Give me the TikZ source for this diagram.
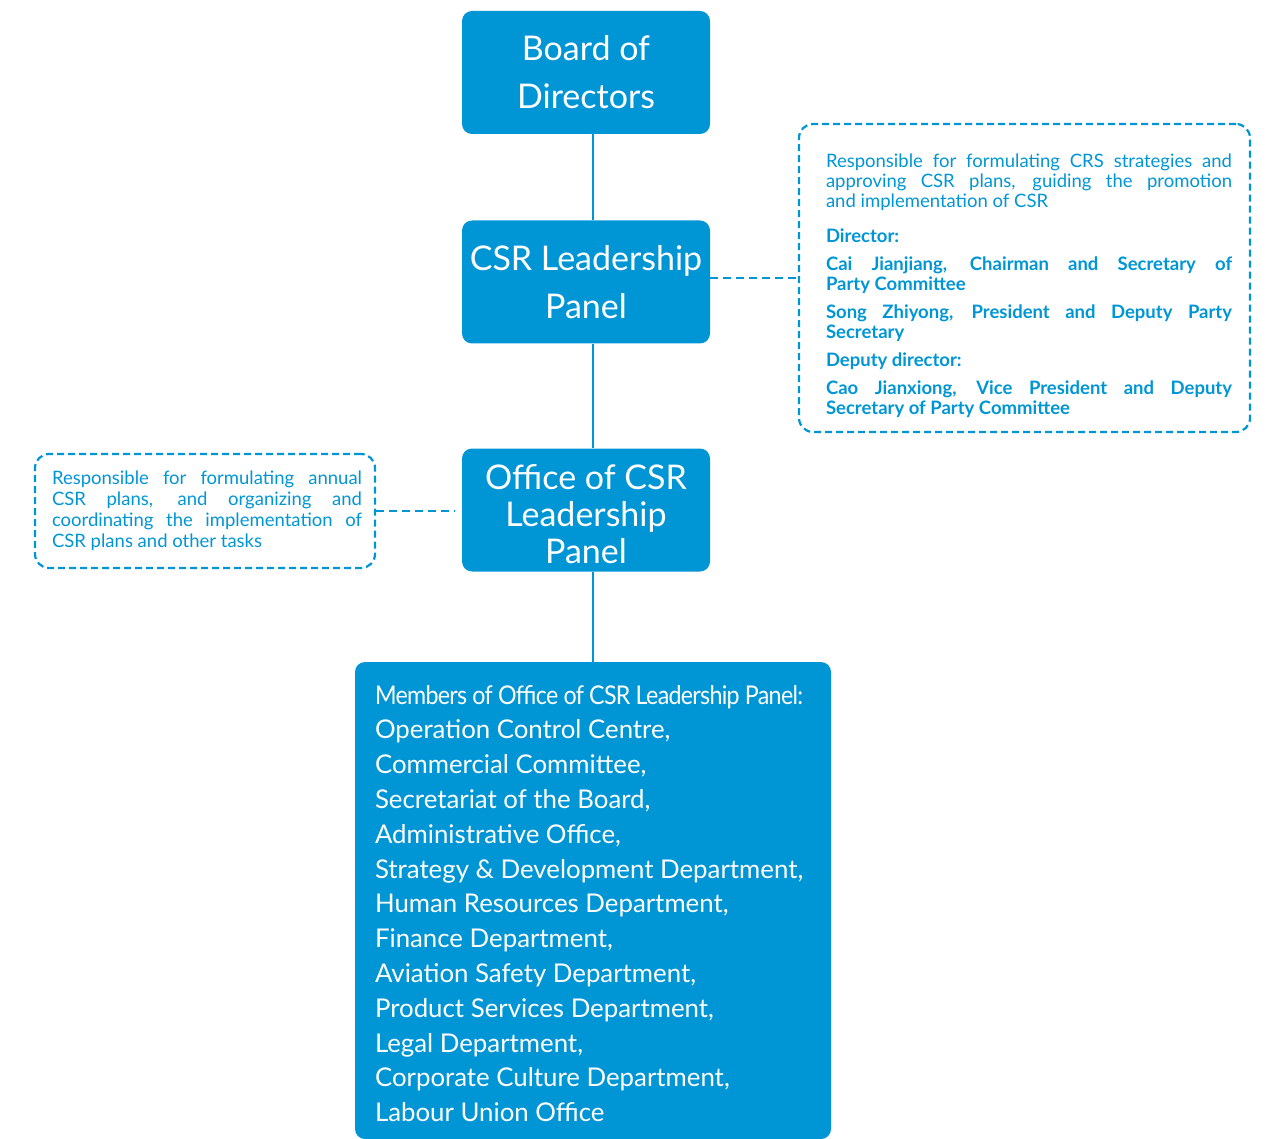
\documentclass[tikz,border=0pt]{standalone}
\usepackage{fontspec}
\usepackage{graphicx}
\setmainfont{Lato}
\usetikzlibrary{positioning}
\definecolor{csrblue}{RGB}{0,150,214}

\begin{document}
\begin{tikzpicture}[x=1pt,y=-1pt,
    mainbox/.style={fill=csrblue, text=white, rounded corners=10pt,
      minimum width=248pt, minimum height=123pt, inner sep=0pt,
      align=center, font=\fontsize{34}{48}\selectfont},
    notebox/.style={draw=csrblue, line width=2.2pt, dash pattern=on 7pt off 4pt,
      rounded corners=14pt, text=csrblue, inner sep=0pt},
    link/.style={draw=csrblue, line width=2pt},
    notelink/.style={draw=csrblue, line width=2.5pt, dash pattern=on 8pt off 5pt}]
  \useasboundingbox (0,0) rectangle (1271,1139);

  % main chain
  \node[mainbox] (board) at (586,72.5) {Board of\\Directors};
  \node[mainbox] (leader) at (586,282) {CSR Leadership\\Panel};
  \node[mainbox, font=\fontsize{34}{37}\selectfont] (office) at (586,510)
    {\parbox{248pt}{\vspace*{8pt}\centering Office of CSR\\Leadership\\Panel}};
  \node[fill=csrblue, text=white, rounded corners=10pt, inner sep=0pt,
    minimum width=476pt, minimum height=477pt] (members) at (593,900.5)
    {\parbox{436pt}{\vspace*{6pt}\fontsize{25.8}{34.8}\selectfont
      \resizebox{428pt}{\height}{\addfontfeature{LetterSpace=-3}Members of Office of CSR Leadership Panel:}\\
      Operation Control Centre,\\
      Commercial Committee,\\
      Secretariat of the Board,\\
      Administrative Office,\\
      Strategy \& Development Department,\\
      Human Resources Department,\\
      Finance Department,\\
      Aviation Safety Department,\\
      Product Services Department,\\
      Legal Department,\\
      Corporate Culture Department,\\
      Labour Union Office}};

  % notes
  \node[notebox, minimum width=451pt, minimum height=308pt] (duty) at (1024.5,278)
    {\hspace*{9pt}\parbox{406pt}{\fontsize{18.5}{20}\selectfont\vspace*{15pt}
      Responsible for formulating CRS strategies and\linebreak
      approving CSR plans, guiding the promotion\linebreak
      and implementation of CSR\par\vspace{15pt}
      \bfseries Director:\par\vspace{8pt}
      Cai Jianjiang, Chairman and Secretary of\linebreak
      Party Committee\par\vspace{8pt}
      Song Zhiyong, President and Deputy Party\linebreak
      Secretary\par\vspace{8pt}
      Deputy director:\par\vspace{8pt}
      Cao Jianxiong, Vice President and Deputy\linebreak
      Secretary of Party Committee}};
  \node[notebox, minimum width=340pt, minimum height=114pt] (task) at (205,511)
    {\hspace*{4pt}\parbox{310pt}{\fontsize{18.5}{21}\selectfont
      Responsible for formulating annual\linebreak
      CSR plans, and organizing and\linebreak
      coordinating the implementation of\linebreak
      CSR plans and other tasks}};

  % connectors
  \draw[link] (board.south -| members.north) -- (leader.north -| members.north);
  \draw[link] (leader.south -| members.north) -- (office.north -| members.north);
  \draw[link] (office.south -| members.north) -- (members.north);
  \draw[notelink] (leader.east |- duty.west) -- (duty.west);
  \draw[notelink] (task.east) -- ([xshift=-7pt]office.west |- task.east);
\end{tikzpicture}
\end{document}
